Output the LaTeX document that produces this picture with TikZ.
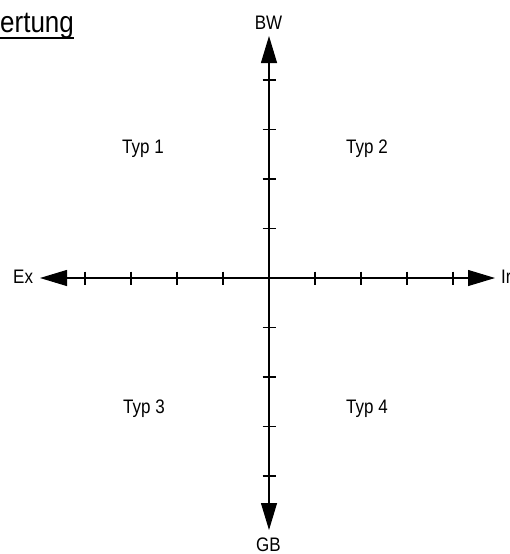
\documentclass[tikz,border=0pt]{standalone}
\usepackage{graphicx}
\usepackage{fontspec}
\setmainfont{Liberation Sans}
\usetikzlibrary{arrows.meta}
\colorlet{AxisLine}{black}
\newcommand{\tallText}[1]{\scalebox{1}[1.15]{#1}}

\begin{document}
\begin{tikzpicture}[
    x=1pt, y=-1pt,
    axis/.style={line width=1.1pt, draw=AxisLine,
                 {Triangle[length=27pt, width=16pt]}-{Triangle[length=27pt, width=16pt]}},
    tick/.style={line width=1.1pt, draw=AxisLine},
    axlbl/.style={inner sep=0pt, anchor=base, font=\fontsize{17}{17}\selectfont},
    typlbl/.style={inner sep=0pt, anchor=base, font=\fontsize{17}{17}\selectfont},
    headlbl/.style={inner sep=0pt, anchor=base west, font=\fontsize{26}{26}\selectfont}
]
\useasboundingbox (0,0) rectangle (510,554);

% ===================================================================
% HEADING
% ===================================================================
\node[headlbl] (head) at (0,32) {\tallText{ertung}};
\draw[line width=1.6pt] ([yshift=-6pt]head.base west) -- ([yshift=-6pt]head.base east);

% ===================================================================
% AXES
% ===================================================================
\coordinate (origin) at (269,278);
\coordinate (ex) at (40,278);
\coordinate (ir) at (495,278);
\coordinate (bw) at (269,36);
\coordinate (gb) at (269,530);

\draw[axis] (ex) -- (ir);
\draw[axis] (gb) -- (bw);

% ticks
\foreach \i in {1,...,4} {
    \draw[tick] ([xshift=-46*\i pt, yshift=6.5pt]origin) -- ++(0,13);
    \draw[tick] ([xshift=46*\i pt, yshift=6.5pt]origin) -- ++(0,13);
    \draw[tick] ([xshift=-6.5pt, yshift=49.5*\i pt]origin) -- ++(13,0);
    \draw[tick] ([xshift=-6.5pt, yshift=-49.5*\i pt]origin) -- ++(13,0);
}

% ===================================================================
% LABELS
% ===================================================================
\node[axlbl] (bwlbl) at (268.5,29) {\tallText{BW}};
\node[axlbl] (gblbl) at (268.5,551) {\tallText{GB}};
\node[axlbl, anchor=base west] (exlbl) at (13,283) {\tallText{Ex}};
\node[axlbl, anchor=base west] (irlbl) at (501,283) {\tallText{Ir}};

\node[typlbl] (typ1) at (143,153) {\tallText{Typ 1}};
\node[typlbl] (typ2) at (367,153) {\tallText{Typ 2}};
\node[typlbl] (typ3) at (144,413) {\tallText{Typ 3}};
\node[typlbl] (typ4) at (367,413) {\tallText{Typ 4}};

\end{tikzpicture}
\end{document}
